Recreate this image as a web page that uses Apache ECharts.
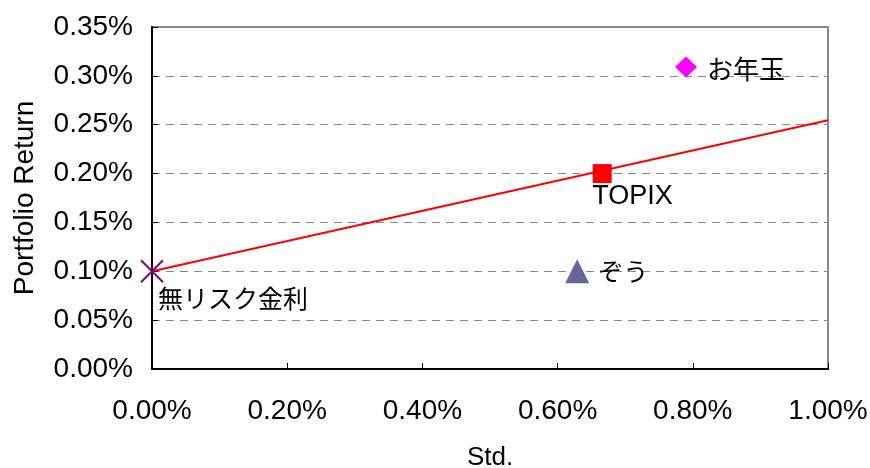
<!DOCTYPE html>
<html>
<head>
<meta charset="utf-8">
<script src="https://cdn.jsdelivr.net/npm/echarts@6/dist/echarts.min.js"></script>
<style>
html,body{margin:0;padding:0;background:#fff;}
#c{width:870px;height:468px;}
</style>
</head>
<body>
<div id="c"></div>
<script>
// Values in percent
var pointNames = ['無リスク金利', 'TOPIX', 'ぞう', 'お年玉'];
var pointStd = [0.00, 0.666, 0.629, 0.790];
var pointReturn = [0.10, 0.20, 0.10, 0.309];
var lineStd = [0.00, 1.00];
var lineReturn = [0.10, 0.2545];
var xTicks = [0, 0.2, 0.4, 0.6, 0.8, 1.0];
var yTicks = [0, 0.05, 0.10, 0.15, 0.20, 0.25, 0.30, 0.35];

var JP = '"Noto Sans CJK JP", "Liberation Sans", sans-serif';
var LAT = '"Liberation Sans", Arial, sans-serif';
function pct(v){ return v.toFixed(2) + '%'; }

var styles = [
  {symbol:'path://M0,0L10,10M10,0L0,10', size:22, item:{color:'none', borderColor:'#800080', borderWidth:2, opacity:1}, off:[6,27], font:JP, fs:25},
  {symbol:'rect', size:19, item:{color:'#ff0000', opacity:1}, off:[-10,23], font:LAT, fs:27},
  {symbol:'triangle', size:[24,24], item:{color:'#666699', opacity:1}, off:[21,0], font:JP, fs:25},
  {symbol:'diamond', size:[22,21], item:{color:'#ff00ff', opacity:1}, off:[21,2], font:JP, fs:26}
];

var scatterSeries = pointNames.map(function(n, i){
  var s = styles[i];
  return {
    type:'scatter', name:n, z:5,
    symbol:s.symbol, symbolSize:s.size, itemStyle:s.item,
    data:[[pointStd[i], pointReturn[i]]],
    label:{show:true, formatter:n, position:'inside', align:'left', verticalAlign:'middle',
      offset:s.off, color:'#000', opacity:1, fontSize:s.fs, fontFamily:s.font},
    emphasis:{disabled:true}
  };
});

var chart = echarts.init(document.getElementById('c'));
chart.setOption({
  animation:false,
  backgroundColor:'#fff',
  grid:{left:152, right:42, top:27, bottom:99, containLabel:false, outerBoundsMode:'none',
    show:true, borderColor:'#888', borderWidth:2, backgroundColor:'transparent'},
  xAxis:{
    type:'value', min:xTicks[0], max:xTicks[xTicks.length-1], interval:0.2,
    name:'Std.', nameLocation:'middle', nameGap:76,
    nameTextStyle:{fontSize:26, fontFamily:LAT, color:'#000'},
    axisLine:{show:true, lineStyle:{color:'#000', width:2}},
    axisTick:{show:true, inside:true, length:6, lineStyle:{color:'#000', width:1}},
    axisLabel:{formatter:pct, fontSize:28, fontFamily:LAT, color:'#000', margin:28},
    splitLine:{show:false}
  },
  yAxis:{
    type:'value', min:yTicks[0], max:yTicks[yTicks.length-1], interval:0.05,
    name:'Portfolio Return', nameLocation:'middle', nameGap:113, nameRotate:90,
    nameTextStyle:{fontSize:28, fontFamily:LAT, color:'#000'},
    axisLine:{show:true, lineStyle:{color:'#000', width:2}},
    axisTick:{show:true, inside:true, length:6, lineStyle:{color:'#000', width:1}},
    axisLabel:{formatter:pct, fontSize:28, fontFamily:LAT, color:'#000', margin:19},
    splitLine:{show:true, lineStyle:{color:'#888', type:[8,6], width:1}}
  },
  series:[{
    type:'line', data:lineStd.map(function(x,i){return [x, lineReturn[i]];}),
    symbol:'none', lineStyle:{color:'#ff0000', width:2}, z:3, silent:true
  }].concat(scatterSeries)
});
</script>
</body>
</html>
